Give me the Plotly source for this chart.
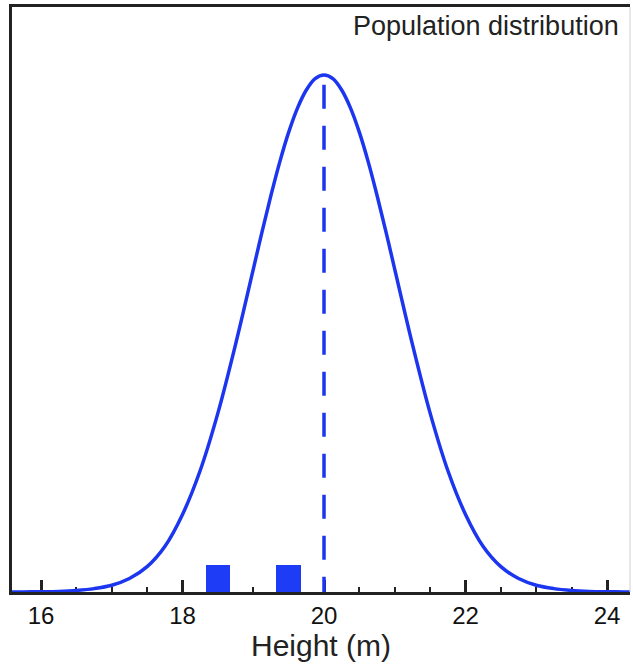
import plotly.graph_objects as go

# Population distribution curve (relative density, peak = 1)
height_m = [15.5, 15.75, 16.0, 16.25, 16.5, 16.75, 17.0, 17.25, 17.5, 17.75,
            18.0, 18.25, 18.5, 18.75, 19.0, 19.125, 19.25, 19.375, 19.5, 19.625, 19.75, 19.875, 20.0,
            20.125, 20.25, 20.375, 20.5, 20.625, 20.75, 20.875, 21.0, 21.25, 21.5, 21.75, 22.0, 22.25,
            22.5, 22.75, 23.0, 23.25, 23.5, 23.75, 24.0, 24.25, 24.5]
density = [0.0001, 0.0002, 0.0005, 0.0012, 0.003, 0.0065, 0.013, 0.026, 0.049, 0.088,
           0.150, 0.235, 0.346, 0.479, 0.624, 0.697, 0.767, 0.832, 0.889, 0.936, 0.971, 0.993, 1.0,
           0.993, 0.971, 0.936, 0.889, 0.832, 0.767, 0.697, 0.624, 0.479, 0.346, 0.235, 0.150, 0.088,
           0.049, 0.026, 0.013, 0.0065, 0.003, 0.0012, 0.0005, 0.0002, 0.0001]

# Sample observations (small bars)
sample_x = [18.5, 19.5]
sample_h = [0.052, 0.052]

# Population mean (dashed line)
mean_x = [20.0, 20.0]
mean_y = [0.981, 0.0]

tick_vals = [16, 18, 20, 22, 24]
tick_text = ["16", "18", "20", "22", "24"]

BLUE = "#1c36f0"
INK = "#222222"
FONT = "Liberation Sans, Arial, Helvetica, sans-serif"

fig = go.Figure()
fig.add_trace(go.Bar(x=sample_x, y=sample_h, width=0.35,
                     marker=dict(color="#1e3cf5", line=dict(width=0)),
                     showlegend=False, hoverinfo="skip"))
fig.add_trace(go.Scatter(x=height_m, y=density, mode="lines",
                         line=dict(color=BLUE, width=3.5, shape="spline", smoothing=1),
                         showlegend=False, hoverinfo="skip"))
fig.add_trace(go.Scatter(x=mean_x, y=mean_y, mode="lines",
                         line=dict(color=BLUE, width=3.5, dash="24px,17px"),
                         showlegend=False, hoverinfo="skip"))

fig.update_layout(
    width=633, height=671,
    margin=dict(l=12, r=3, t=7, b=79),
    paper_bgcolor="white", plot_bgcolor="white",
    font=dict(family=FONT, color=INK),
    bargap=0,
    xaxis=dict(
        range=[15.59, 24.325], showgrid=False, zeroline=False,
        showline=True, linecolor=INK, linewidth=2.5, mirror=True,
        ticks="inside", ticklen=12, tickwidth=2.5, tickcolor=INK,
        tickvals=tick_vals, ticktext=tick_text,
        tickfont=dict(size=24, color="#111111", family=FONT),
        minor=dict(ticks="inside", ticklen=5, tickwidth=2, tickcolor=INK, dtick=0.5, tick0=16, showgrid=False),
        layer="below traces",
        title=dict(text="Height (m)", font=dict(size=30, color=INK, family=FONT), standoff=8),
    ),
    yaxis=dict(
        range=[0, 1.1315], showgrid=False, zeroline=False,
        showline=True, linecolor=INK, linewidth=2.5, mirror=False,
        showticklabels=False, ticks="",
        layer="below traces",
    ),
    annotations=[dict(
        text="Population distribution", xref="paper", yref="paper",
        x=0.9854, y=0.968, xanchor="right", yanchor="middle", showarrow=False,
        font=dict(size=27, color=INK, family=FONT),
    )],
    shapes=[dict(type="line", xref="paper", yref="paper", x0=1, x1=1, y0=0, y1=1,
                 line=dict(color="#cfcfcf", width=1))],
)

fig.write_html("out.html")
